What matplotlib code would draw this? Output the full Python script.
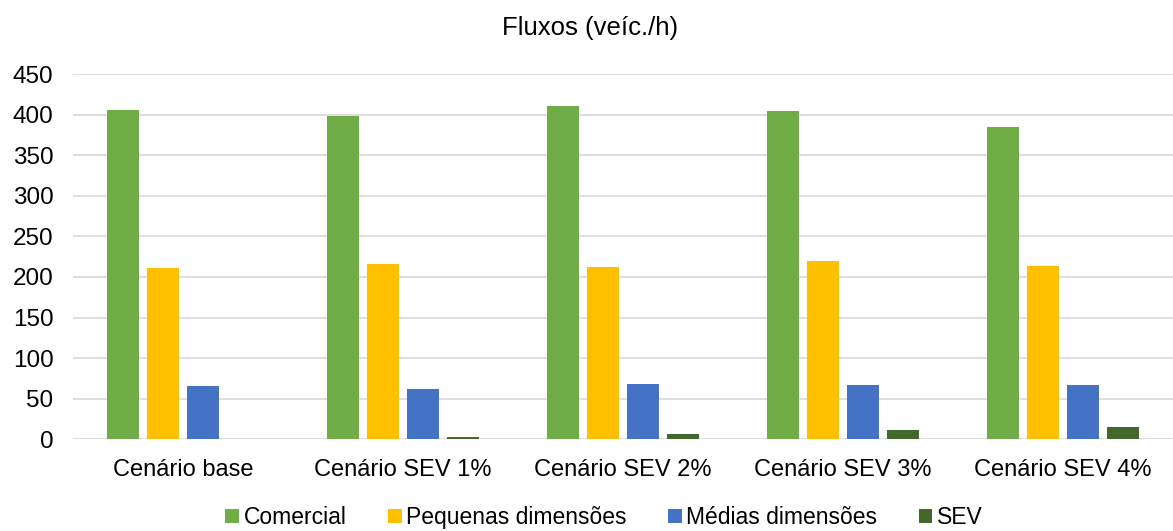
import matplotlib
matplotlib.use("Agg")
import matplotlib.pyplot as plt
import numpy as np

plt.rcParams["font.family"] = ["Liberation Sans", "DejaVu Sans"]

# 数据
cenarios = ["Cenário base", "Cenário SEV 1%", "Cenário SEV 2%", "Cenário SEV 3%", "Cenário SEV 4%"]
comercial = [406, 398, 410, 404, 385]
pequenas = [211, 216, 212, 220, 213]
medias = [66, 62, 68, 67, 67]
sev = [0, 3, 6, 11, 15]

series = [
    ("Comercial", comercial, "#70ad47"),
    ("Pequenas dimensões", pequenas, "#ffc000"),
    ("Médias dimensões", medias, "#4472c4"),
    ("SEV", sev, "#43682b"),
]

fig = plt.figure(figsize=(11.73, 5.31), dpi=100)
ax = fig.add_axes([0.0622, 0.1727, 0.9378, 0.6879])

x = np.arange(len(cenarios))
w = 32 / 220
step = 40 / 220
for i, (name, vals, color) in enumerate(series):
    ax.bar(x + (i - 1.5) * step, vals, width=w, color=color, label=name, zorder=3)

ax.set_xlim(-0.5, len(cenarios) - 0.5)
ax.set_ylim(0, 450)
ax.set_yticks(range(0, 451, 50))
ax.set_xticks(x)
ax.set_xticklabels(cenarios, fontsize=17)
ax.tick_params(axis="y", labelsize=17.5)
ax.tick_params(axis="both", length=0, colors="#000000")
ax.tick_params(axis="x", pad=14)
ax.tick_params(axis="y", pad=14)
ax.grid(axis="y", color="#d9d9d9", linewidth=1.2, zorder=0)
for s in ax.spines.values():
    s.set_visible(False)

fig.text(0.503, 0.947, "Fluxos (veíc./h)", ha="center", va="center", fontsize=18.5)

fig.legend(
    loc="center",
    bbox_to_anchor=(0.515, 0.025),
    ncol=4,
    frameon=False,
    fontsize=16.5,
    handlelength=0.6,
    handleheight=0.6,
    handletextpad=0.2,
    columnspacing=1.8,
)

fig.savefig("out.png", dpi=100)
